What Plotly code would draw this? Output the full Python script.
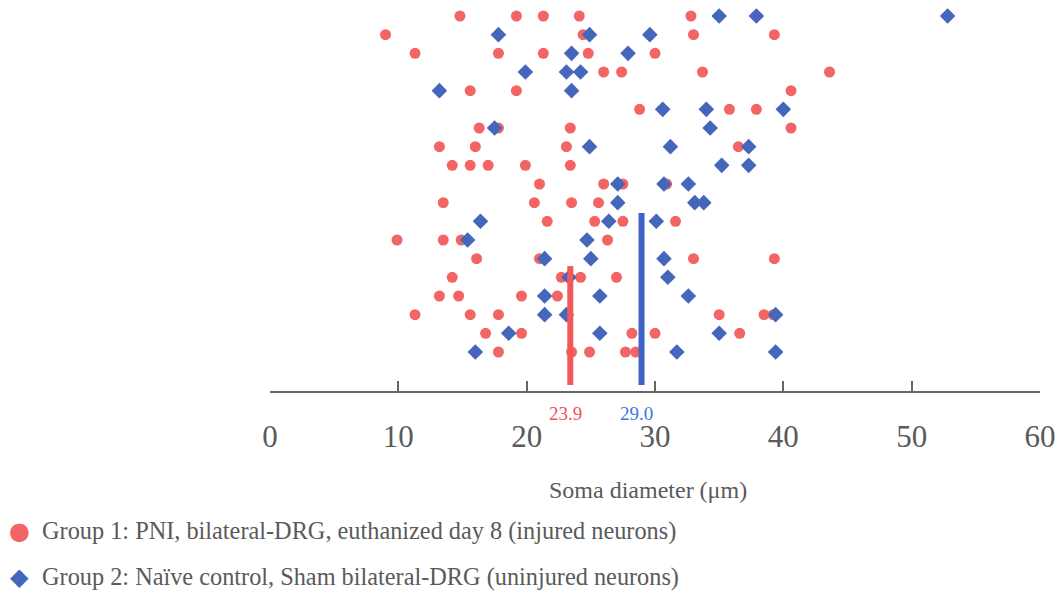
import plotly.graph_objects as go

# ---- data (soma diameter, µm), one list per row (top row first)
group1_by_row = [
    [14.8, 19.2, 21.3, 24.1, 32.8],
    [9.0, 24.4, 33.0, 39.3],
    [11.3, 17.8, 21.3, 24.8, 30.0],
    [26.0, 27.4, 33.7, 43.6],
    [15.6, 19.2, 40.6],
    [28.8, 35.8, 37.9],
    [16.3, 17.8, 23.4, 40.6],
    [13.2, 16.0, 23.1, 36.5],
    [14.2, 15.6, 17.0, 19.9, 23.4],
    [21.0, 26.0, 27.5, 30.9],
    [13.5, 20.6, 23.5, 25.6],
    [21.6, 25.3, 27.5, 31.6],
    [9.9, 13.5, 14.9, 26.3],
    [16.1, 21.0, 33.0, 39.3],
    [14.2, 22.7, 24.2, 27.0],
    [13.2, 14.7, 19.6, 22.4],
    [11.3, 15.6, 17.8, 35.0, 38.5, 39.2],
    [16.8, 19.6, 28.2, 30.0, 36.6],
    [17.8, 23.5, 24.9, 27.7, 28.5],
]
group2_by_row = [
    [35.0, 37.9, 52.8],
    [17.8, 24.9, 29.6],
    [23.5, 27.9],
    [19.9, 23.1, 24.2],
    [13.2, 23.5],
    [30.6, 34.0, 40.0],
    [17.5, 34.3],
    [24.9, 31.2, 37.3],
    [35.2, 37.3],
    [27.1, 30.7, 32.6],
    [27.1, 33.1, 33.8],
    [16.4, 26.4, 30.1],
    [15.4, 24.7],
    [21.4, 25.0, 30.7],
    [23.3, 31.0],
    [21.4, 25.7, 32.6],
    [21.4, 23.1, 39.4],
    [18.6, 25.7, 35.0],
    [16.0, 31.7, 39.4],
]
group_names = [
    "Group 1: PNI, bilateral-DRG, euthanized day 8 (injured neurons)",
    "Group 2: Naïve control, Sham bilateral-DRG (uninjured neurons)",
]
group_symbols = ["●", "◆"]
mean_positions = [23.4, 28.95]      # where the mean bars are drawn
mean_labels = ["23.9", "29.0"]
mean_bar_top_row = [14.4, 11.55]    # upper end of each mean bar (row units)
mean_bar_bottom_row = 20.77
x_ticks = [0, 10, 20, 30, 40, 50, 60]
x_title = "Soma diameter (μm)"

RED = "#f36464"
BLUE = "#4466bb"
RED_LINE = "#f25858"
BLUE_LINE = "#3d63c9"
RED_TEXT = "#f0505a"
BLUE_TEXT = "#3a7ae0"
GRAY = "#5a5a5a"
FONT = "Liberation Serif"


def flatten(by_row):
    xs, ys = [], []
    for i, row in enumerate(by_row, start=1):
        for v in row:
            xs.append(v)
            ys.append(i)
    return xs, ys


g1x, g1y = flatten(group1_by_row)
g2x, g2y = flatten(group2_by_row)

fig = go.Figure()
fig.add_trace(go.Scatter(x=g1x, y=g1y, mode="markers", showlegend=False,
                         marker=dict(symbol="circle", size=11, color=RED)))
fig.add_trace(go.Scatter(x=g2x, y=g2y, mode="markers", showlegend=False,
                         marker=dict(symbol="diamond", size=12, color=BLUE)))

for pos, top, col in zip(mean_positions, mean_bar_top_row, [RED_LINE, BLUE_LINE]):
    fig.add_trace(go.Scatter(x=[pos, pos], y=[top, mean_bar_bottom_row], mode="lines",
                             showlegend=False, line=dict(color=col, width=6)))

for pos, lab, col in zip(mean_positions, mean_labels, [RED_TEXT, BLUE_TEXT]):
    fig.add_annotation(x=pos, y=-0.0563, xref="x", yref="paper", text=lab,
                       showarrow=False, xshift=-5, yanchor="middle",
                       font=dict(family=FONT, size=19, color=col))

fig.add_annotation(x=0.491, y=-0.2532, xref="paper", yref="paper", text=x_title,
                   showarrow=False, xanchor="center", yanchor="middle",
                   font=dict(family=FONT, size=24, color=GRAY))

# legend drawn as text lines below the chart
legend_y = [-0.3581, -0.4757]
for name, sym, col, ly in zip(group_names, group_symbols, [RED, BLUE], legend_y):
    fig.add_annotation(x=-0.3247, y=ly, xref="paper", yref="paper", text=sym,
                       showarrow=False, xanchor="center", yanchor="middle",
                       font=dict(family="DejaVu Sans", size=24, color=col))
    fig.add_annotation(x=-0.2987, y=ly, xref="paper", yref="paper", text=name,
                       showarrow=False, xanchor="left", yanchor="middle",
                       font=dict(family=FONT, size=24.3, color=GRAY))

fig.update_layout(
    width=1061, height=593,
    margin=dict(l=270, r=21, t=0, b=202),
    paper_bgcolor="white", plot_bgcolor="white",
    showlegend=False,
    font=dict(family=FONT, color=GRAY),
    xaxis=dict(range=[0, 60], tickvals=x_ticks, showgrid=False, zeroline=False,
               showline=True, linecolor="#666666", linewidth=2,
               ticks="inside", ticklen=10, tickwidth=2, tickcolor="#666666",
               tickfont=dict(family=FONT, size=31, color=GRAY),
               ticklabelstandoff=17),
    yaxis=dict(range=[21.09, 0.143], visible=False, showgrid=False, zeroline=False),
)

fig.write_html("out.html", config={"displayModeBar": False},
               post_script="document.body.style.margin='0';document.body.style.overflow='hidden';")
